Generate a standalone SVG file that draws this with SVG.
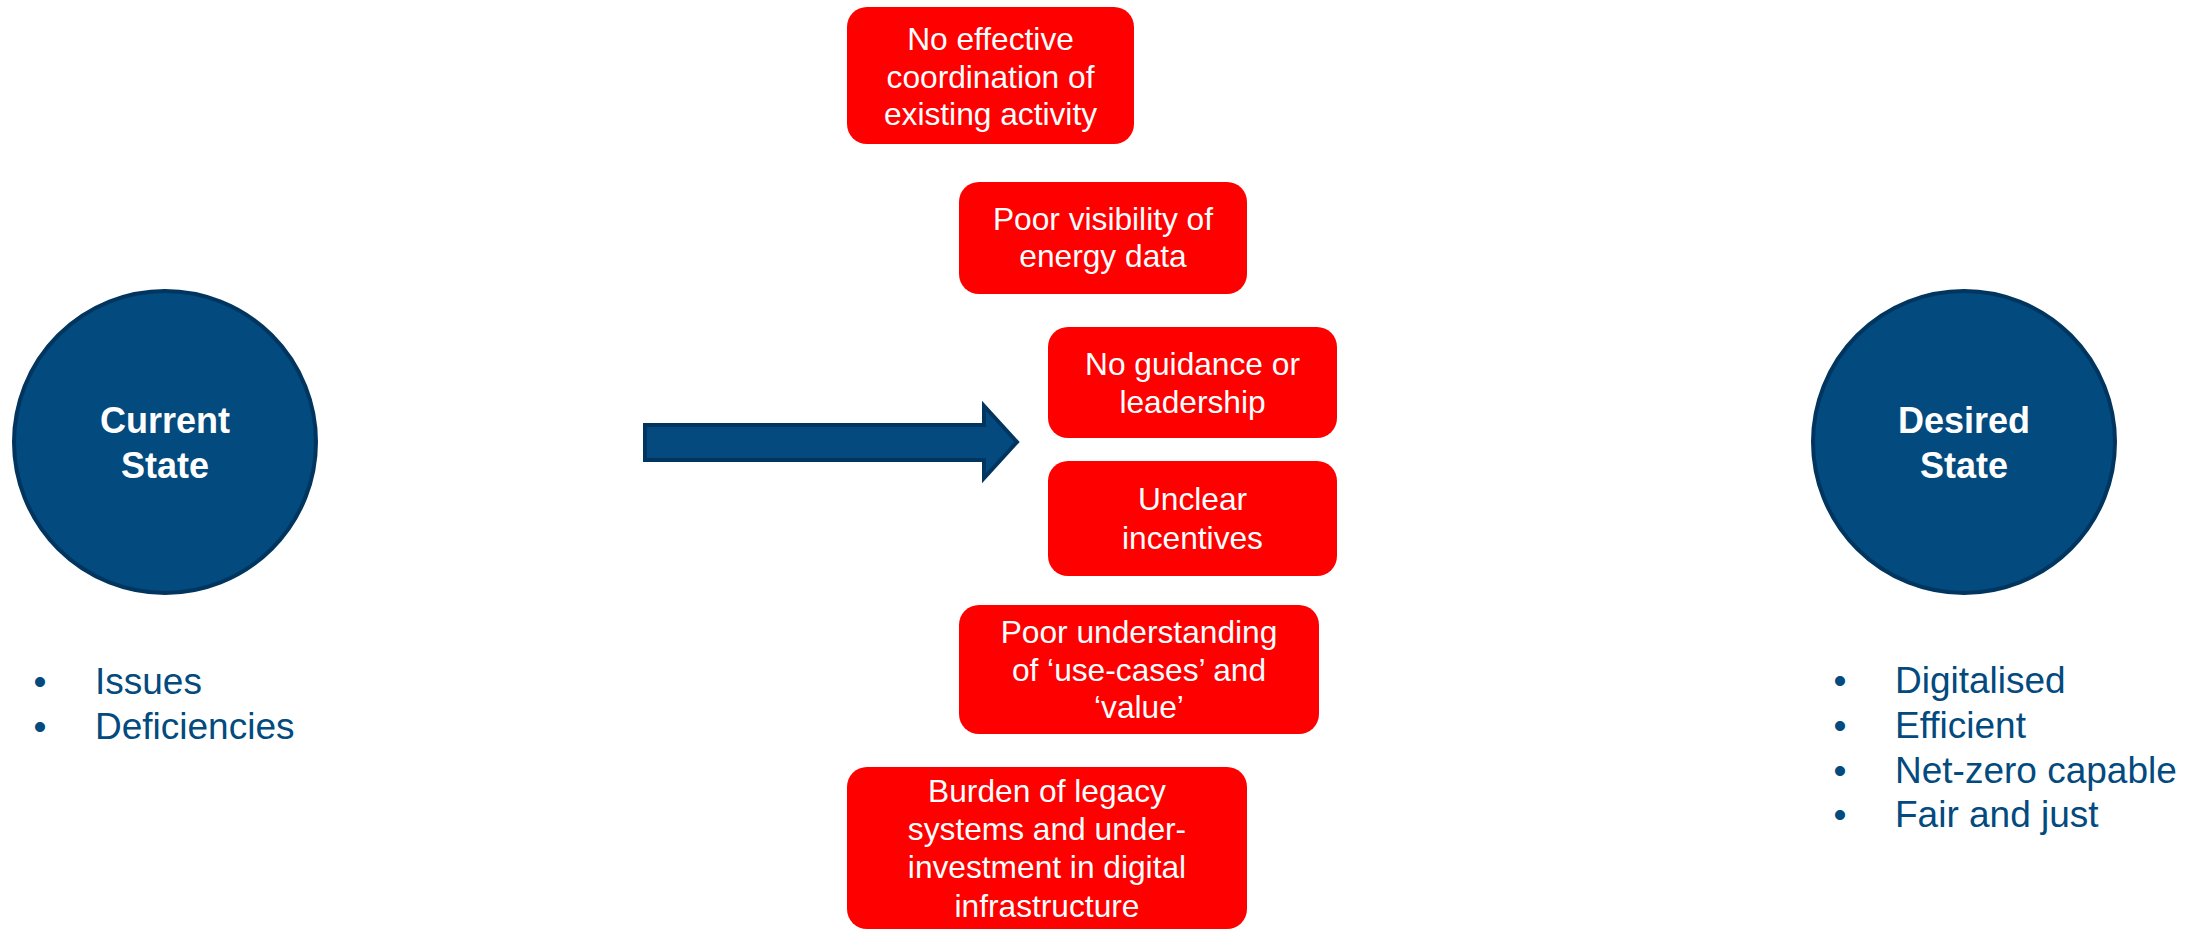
<svg xmlns="http://www.w3.org/2000/svg" width="2199" height="930" viewBox="0 0 2199 930">
<style>
.state{fill:#034A7E;stroke:#00355F;stroke-width:4}
.stitle{font-family:"Liberation Sans",Arial,sans-serif;font-weight:bold;font-size:36px;fill:#FFFFFF;text-anchor:middle}
.box{fill:#FF0000}
.btxt{font-family:"Liberation Sans",Arial,sans-serif;font-size:31.7px;fill:#FFFFFF;text-anchor:middle}
.list{font-family:"Liberation Sans",Arial,sans-serif;font-size:37px;fill:#034A7E}
.bul{text-anchor:middle}
.arrow{fill:#044A7E;stroke:#00355F;stroke-width:4;stroke-linejoin:miter}
</style>
<rect width="2199" height="930" fill="#FFFFFF"/>
<g id="current-state">
<circle class="state" cx="165" cy="442" r="151"/>
<text class="stitle" x="165" y="433">Current</text>
<text class="stitle" x="165" y="478">State</text>
</g>
<g id="current-list" class="list">
<text class="bul" x="40" y="694">•</text>
<text x="95" y="694">Issues</text>
<text class="bul" x="40" y="739">•</text>
<text x="95" y="739">Deficiencies</text>
</g>
<g id="desired-state">
<circle class="state" cx="1964" cy="442" r="151"/>
<text class="stitle" x="1964" y="433">Desired</text>
<text class="stitle" x="1964" y="478">State</text>
</g>
<g id="desired-list" class="list">
<text class="bul" x="1840" y="693">•</text>
<text x="1895" y="693">Digitalised</text>
<text class="bul" x="1840" y="738">•</text>
<text x="1895" y="738">Efficient</text>
<text class="bul" x="1840" y="783">•</text>
<text x="1895" y="783">Net-zero capable</text>
<text class="bul" x="1840" y="827">•</text>
<text x="1895" y="827">Fair and just</text>
</g>
<g id="connectors">
<path class="arrow" d="M645,425 L984,425 L984,406 L1017,442 L984,478 L984,460 L645,460 Z"/>
</g>
<g id="box-coordination">
<rect class="box" x="847" y="7" width="287" height="137" rx="20"/>
<text class="btxt" x="990.5" y="50">No effective</text>
<text class="btxt" x="990.5" y="88">coordination of</text>
<text class="btxt" x="990.5" y="125">existing activity</text>
</g>
<g id="box-visibility">
<rect class="box" x="959" y="182" width="288" height="112" rx="20"/>
<text class="btxt" x="1103" y="230">Poor visibility of</text>
<text class="btxt" x="1103" y="267">energy data</text>
</g>
<g id="box-guidance">
<rect class="box" x="1048" y="327" width="289" height="111" rx="20"/>
<text class="btxt" x="1192.5" y="375">No guidance or</text>
<text class="btxt" x="1192.5" y="413">leadership</text>
</g>
<g id="box-incentives">
<rect class="box" x="1048" y="461" width="289" height="115" rx="20"/>
<text class="btxt" x="1192.5" y="510">Unclear</text>
<text class="btxt" x="1192.5" y="549">incentives</text>
</g>
<g id="box-usecases">
<rect class="box" x="959" y="605" width="360" height="129" rx="20"/>
<text class="btxt" x="1139" y="643">Poor understanding</text>
<text class="btxt" x="1139" y="681">of ‘use-cases’ and</text>
<text class="btxt" x="1139" y="718">‘value’</text>
</g>
<g id="box-legacy">
<rect class="box" x="847" y="767" width="400" height="162" rx="20"/>
<text class="btxt" x="1047" y="802">Burden of legacy</text>
<text class="btxt" x="1047" y="840">systems and under-</text>
<text class="btxt" x="1047" y="878">investment in digital</text>
<text class="btxt" x="1047" y="917">infrastructure</text>
</g>
</svg>
